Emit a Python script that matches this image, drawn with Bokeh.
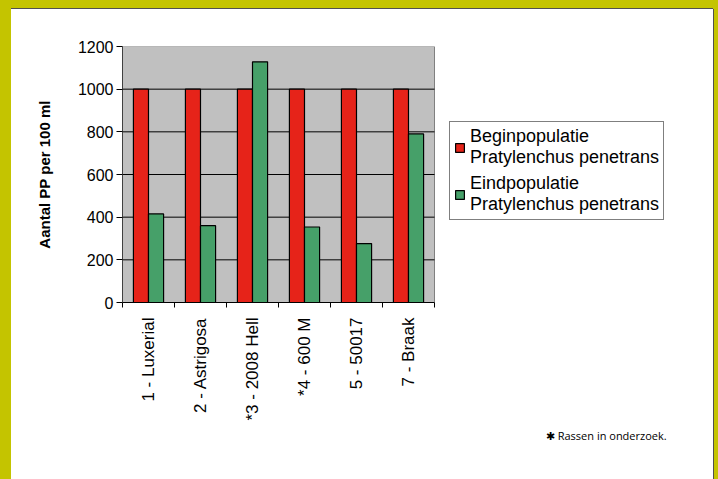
import numpy as np
from bokeh.plotting import figure
from bokeh.models import FixedTicker, Legend, LegendItem, Title, Range1d
from bokeh.embed import file_html
from bokeh.resources import INLINE

categories = ["1 - Luxerial", "2 - Astrigosa", "*3 - 2008 Hell", "*4 - 600 M", "5 - 50017", "7 - Braak"]
begin_values = [1000, 1000, 1000, 1000, 1000, 1000]
eind_values = [415, 360, 1128, 354, 276, 790]
y_ticks = [0, 200, 400, 600, 800, 1000, 1200]
series_names = ["Beginpopulatie\nPratylenchus penetrans", "Eindpopulatie\nPratylenchus penetrans"]
y_title = "Aantal PP per 100 ml"
footnote = "\u2731  Rassen in onderzoek."

RED = "#E62319"
GREEN = "#46A069"
GRAY = "#C0C0C0"
YELLOW = "#C4C400"
FONT = "Liberation Sans"

# layout (pixels)
PLOT_W = 312      # width of the grey plot area
FRAME_W = 591     # frame extends to the right edge so legend/footnote fit inside

n = len(categories)
centers = np.arange(n) + 0.5
bar_w = 0.29

p = figure(width=702, height=470, x_range=Range1d(0, n * FRAME_W / PLOT_W),
           y_range=Range1d(y_ticks[0], y_ticks[-1]),
           output_backend="svg", toolbar_location=None,
           min_border_left=111, min_border_right=0, min_border_top=37, min_border_bottom=177)
p.styles = {"margin-left": "11px", "margin-top": "9px",
            "box-shadow": (f"0 -1px 0 0 #505050, 1px 0 0 0 #505050, -11px 0 0 0 {YELLOW}, "
                           f"0 -9px 0 0 {YELLOW}, 6px 0 0 0 {YELLOW}, -11px -9px 0 0 {YELLOW}, "
                           f"6px -9px 0 0 {YELLOW}")}
p.background_fill_color = "white"
p.border_fill_color = "white"
p.outline_line_color = None
p.xgrid.grid_line_color = None
p.ygrid.grid_line_color = None

# grey plot area, gridlines, bars
p.quad(left=[0], right=[n], bottom=[y_ticks[0]], top=[y_ticks[-1]],
       fill_color=GRAY, line_color="#808080", line_width=1)
grid_y = y_ticks[1:-1]
p.segment(x0=[0] * len(grid_y), x1=[n] * len(grid_y), y0=grid_y, y1=grid_y,
          line_color="black", line_width=1)
r1 = p.vbar(x=centers - bar_w / 2, top=begin_values, width=bar_w, fill_color=RED,
            line_color="black", line_width=1.2)
r2 = p.vbar(x=centers + bar_w / 2, top=eind_values, width=bar_w, fill_color=GREEN,
            line_color="black", line_width=1.2)

# y axis
p.yaxis.ticker = FixedTicker(ticks=y_ticks)
p.yaxis.minor_tick_line_color = None
p.yaxis.major_tick_out = 6
p.yaxis.major_tick_in = 0
p.yaxis.major_label_standoff = 3
p.yaxis.major_label_text_font = FONT
p.yaxis.major_label_text_font_size = "16px"
p.yaxis.major_label_text_color = "black"
p.yaxis.axis_line_color = "#404040"
p.yaxis.major_tick_line_color = "black"
p.yaxis.axis_label = y_title
p.yaxis.axis_label_text_font = FONT
p.yaxis.axis_label_text_font_style = "bold"
p.yaxis.axis_label_text_font_size = "15px"
p.yaxis.axis_label_text_color = "black"
p.yaxis.axis_label_standoff = 22

# x axis
p.xaxis.bounds = (0, n)
p.xaxis.ticker = FixedTicker(ticks=list(centers), minor_ticks=list(range(n + 1)))
p.xaxis.major_label_overrides = {float(c): lab for c, lab in zip(centers, categories)}
p.xaxis.major_tick_line_color = None
p.xaxis.major_tick_out = 0
p.xaxis.major_tick_in = 0
p.xaxis.minor_tick_out = 5
p.xaxis.minor_tick_in = 0
p.xaxis.minor_tick_line_color = "black"
p.xaxis.axis_line_color = "black"
p.xaxis.major_label_orientation = np.pi / 2
p.xaxis.major_label_standoff = 10
p.xaxis.major_label_text_font = FONT
p.xaxis.major_label_text_font_size = "17px"
p.xaxis.major_label_text_color = "black"

legend = Legend(items=[LegendItem(label=series_names[0], renderers=[r1]),
                       LegendItem(label=series_names[1], renderers=[r2])],
                location=(327, 82))
legend.border_line_color = "black"
legend.border_line_width = 1
legend.background_fill_color = "white"
legend.background_fill_alpha = 1
legend.label_text_font = FONT
legend.label_text_font_size = "18px"
legend.label_text_color = "black"
legend.glyph_width = 11
legend.glyph_height = 11
legend.padding = 4
legend.spacing = 5
legend.label_standoff = 5
legend.margin = 0
p.add_layout(legend)

note = Title(text=footnote, align="right", offset=44, text_font="Open Sans",
             text_font_size="11px", text_font_style="normal", text_color="black", standoff=4)
p.add_layout(note, "below")

open("out.html", "w").write(file_html(p, INLINE))
